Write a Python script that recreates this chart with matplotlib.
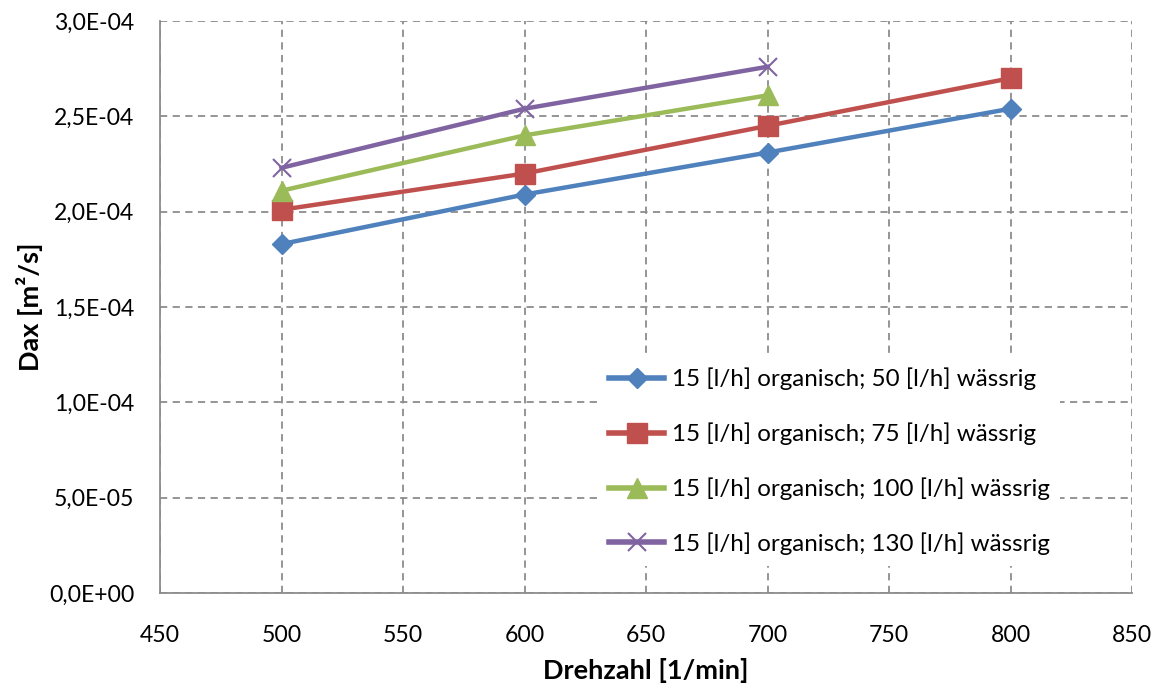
import matplotlib
matplotlib.use("Agg")
import matplotlib.pyplot as plt
from matplotlib.ticker import FuncFormatter, MultipleLocator

plt.rcParams['font.family'] = ['Lato', 'DejaVu Sans']

# Drehzahl [1/min]
drehzahl_50 = [500, 600, 700, 800]
drehzahl_75 = [500, 600, 700, 800]
drehzahl_100 = [500, 600, 700]
drehzahl_130 = [500, 600, 700]

# Dax [m²/s]
dax_50 = [1.83e-4, 2.09e-4, 2.31e-4, 2.54e-4]
dax_75 = [2.01e-4, 2.20e-4, 2.45e-4, 2.70e-4]
dax_100 = [2.11e-4, 2.40e-4, 2.61e-4]
dax_130 = [2.23e-4, 2.54e-4, 2.76e-4]

labels = [
    "15 [l/h] organisch; 50 [l/h] wässrig",
    "15 [l/h] organisch; 75 [l/h] wässrig",
    "15 [l/h] organisch; 100 [l/h] wässrig",
    "15 [l/h] organisch; 130 [l/h] wässrig",
]

fig = plt.figure(figsize=(11.59, 6.84), dpi=100)
ax = fig.add_axes([160 / 1159, 91 / 684, 972 / 1159, 572 / 684])

lw = 3.2
ax.plot(drehzahl_50, dax_50, color='#4F81BD', lw=lw, marker='D', ms=10,
        label=labels[0], zorder=3)
ax.plot(drehzahl_75, dax_75, color='#C0504D', lw=lw, marker='s', ms=14,
        label=labels[1], zorder=3)
ax.plot(drehzahl_100, dax_100, color='#9BBB59', lw=lw, marker='^', ms=14,
        label=labels[2], zorder=3)
ax.plot(drehzahl_130, dax_130, color='#8064A2', lw=lw, marker='x', ms=13,
        mew=1.5, label=labels[3], zorder=3)

ax.set_xlim(450, 850)
ax.set_ylim(0, 3.0e-4)
ax.xaxis.set_major_locator(MultipleLocator(50))
ax.yaxis.set_major_locator(MultipleLocator(5e-5))


def sci_comma(v, pos):
    if abs(v) < 1e-12:
        return "0,0E+00"
    s = f"{v:.1E}"
    return s.replace('.', ',')


ax.yaxis.set_major_formatter(FuncFormatter(sci_comma))

ax.grid(True, color='#8C8C8C', linestyle=(0, (4, 3)), linewidth=1.3)
ax.set_axisbelow(True)
for side in ['top', 'right']:
    ax.spines[side].set_visible(False)
for side in ['left', 'bottom']:
    ax.spines[side].set_color('#8C8C8C')
    ax.spines[side].set_linewidth(1.3)
ax.tick_params(length=0, labelsize=16.6)
ax.tick_params(axis='y', pad=18.5)
ax.tick_params(axis='x', pad=23)

ax.set_xlabel("Drehzahl [1/min]", fontsize=19.5, fontweight='bold', labelpad=9)
ax.set_ylabel("Dax [m²/s]", fontsize=19.5, fontweight='bold', labelpad=4)

leg = ax.legend(loc='upper left', bbox_to_anchor=(598 / 1159, 1 - 357 / 684),
                bbox_transform=fig.transFigure, fontsize=17.4, frameon=True,
                fancybox=False, framealpha=1, edgecolor='none',
                facecolor='white', handlelength=2.3, labelspacing=1.33,
                handletextpad=0.3, borderpad=0.45, borderaxespad=0)
for line in leg.get_lines():
    line.set_linewidth(4)

fig.savefig("out.png", dpi=100)
